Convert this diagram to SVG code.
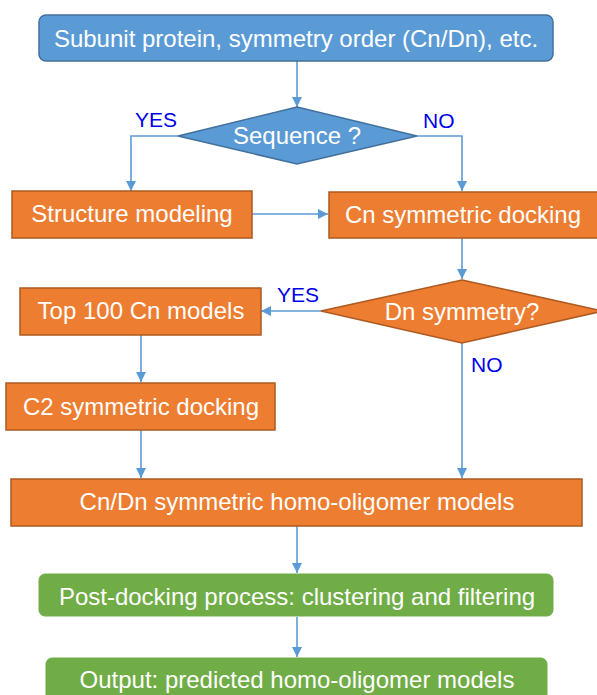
<svg xmlns="http://www.w3.org/2000/svg" width="597" height="695" viewBox="0 0 597 695">
  <defs>
    <marker id="arrow" viewBox="0 0 10 10" refX="10" refY="5" markerWidth="10" markerHeight="10" markerUnits="userSpaceOnUse" orient="auto">
      <path d="M0,0 L10,5 L0,10 Z" fill="#5b9bd5"/>
    </marker>
    <style>
      .blue { fill: #5b9bd5; stroke: #41719c; stroke-width: 1.5; }
      .orange { fill: #ed7d31; stroke: #ae5a21; stroke-width: 1.5; }
      .green { fill: #70ad47; stroke: #70ad47; stroke-width: 1; }
      .label { font-family: "Liberation Sans", Arial, sans-serif; font-size: 24px; fill: #ffffff; text-anchor: middle; }
      .branch { font-family: "Liberation Sans", Arial, sans-serif; font-size: 21px; fill: #0000ee; }
      .edge { fill: none; stroke: #5b9bd5; stroke-width: 1.6; marker-end: url(#arrow); }
    </style>
  </defs>
  <rect width="597" height="695" fill="#ffffff"/>

  <g id="connectors">
    <path class="edge" d="M297,61 V107"/>
    <path class="edge" d="M178,136 H131 V191"/>
    <path class="edge" d="M417,136 H462 V191"/>
    <path class="edge" d="M252,214 H328"/>
    <path class="edge" d="M462,238 V279"/>
    <path class="edge" d="M321,311 H261"/>
    <path class="edge" d="M141,335 V382"/>
    <path class="edge" d="M462,343 V478"/>
    <path class="edge" d="M141,430 V478"/>
    <path class="edge" d="M297,526 V573"/>
    <path class="edge" d="M297,617 V657"/>
  </g>

  <g id="input">
    <rect class="blue" x="39" y="15" width="514" height="46" rx="7"/>
    <text class="label" x="296" y="47">Subunit protein, symmetry order (Cn/Dn), etc.</text>
  </g>

  <g id="sequence-decision">
    <polygon class="blue" points="297,107 417,136 297,164 178,136"/>
    <text class="label" x="297" y="144">Sequence ?</text>
    <text class="branch" x="135" y="127">YES</text>
    <text class="branch" x="423" y="128">NO</text>
  </g>

  <g id="structure-modeling">
    <rect class="orange" x="12" y="191" width="240" height="47"/>
    <text class="label" x="132" y="222">Structure modeling</text>
  </g>

  <g id="cn-docking">
    <rect class="orange" x="329" y="192" width="272" height="46"/>
    <text class="label" x="463" y="223">Cn symmetric docking</text>
  </g>

  <g id="dn-decision">
    <polygon class="orange" points="462,280 603,311 462,343 321,311"/>
    <text class="label" x="462" y="320">Dn symmetry?</text>
    <text class="branch" x="277" y="302">YES</text>
    <text class="branch" x="471" y="372">NO</text>
  </g>

  <g id="top-models">
    <rect class="orange" x="20" y="288" width="241" height="47"/>
    <text class="label" x="141" y="319">Top 100 Cn models</text>
  </g>

  <g id="c2-docking">
    <rect class="orange" x="6" y="383" width="269" height="47"/>
    <text class="label" x="141" y="415">C2 symmetric docking</text>
  </g>

  <g id="oligomer-models">
    <rect class="orange" x="11" y="479" width="571" height="47"/>
    <text class="label" x="297" y="510">Cn/Dn symmetric homo-oligomer models</text>
  </g>

  <g id="post-docking">
    <rect class="green" x="39" y="574" width="514" height="42" rx="6"/>
    <text class="label" x="297" y="605">Post-docking process: clustering and filtering</text>
  </g>

  <g id="output">
    <rect class="green" x="46" y="658" width="501" height="50" rx="6"/>
    <text class="label" x="297" y="688">Output: predicted homo-oligomer models</text>
  </g>
</svg>
